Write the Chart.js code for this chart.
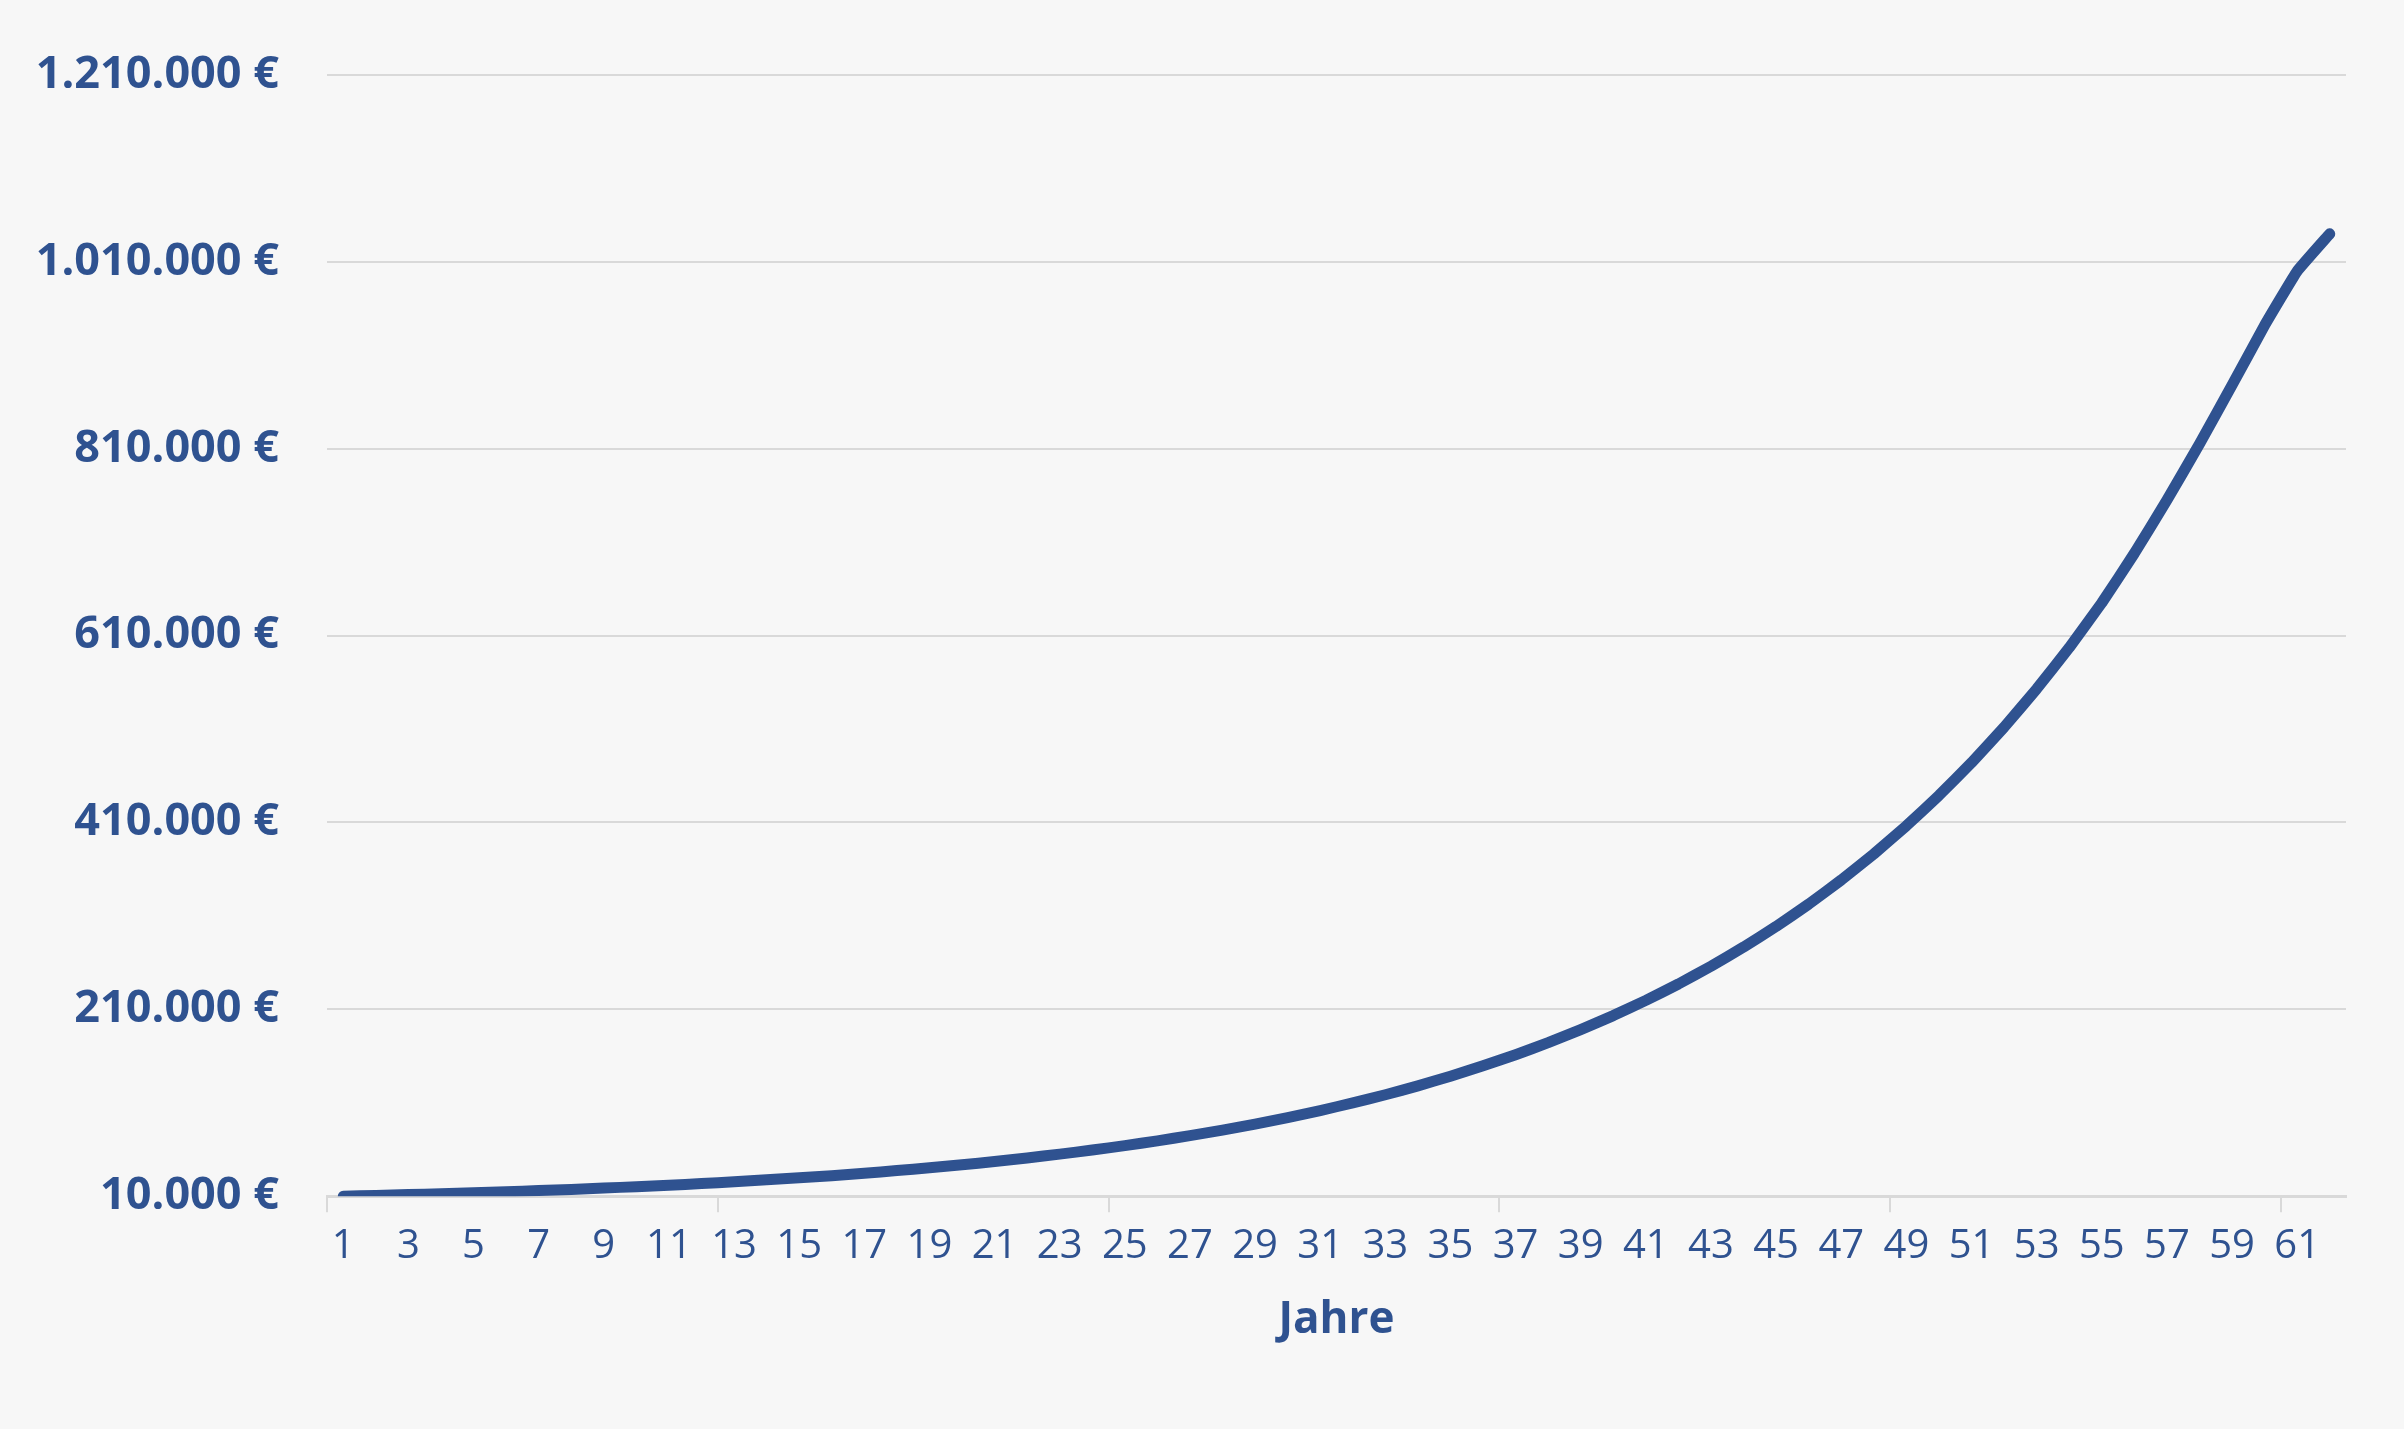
<!DOCTYPE html>
<html>
<head>
<meta charset="utf-8">
<script src="https://cdn.jsdelivr.net/npm/chart.js@4"></script>
<style>
    html, body { margin: 0; padding: 0; background: #f7f7f7; }
    #wrap { width: 2404px; height: 1429px; }
</style>
</head>
<body>
<div id="wrap"><canvas id="growthChart"></canvas></div>
<script>
// data
const years = Array.from({ length: 62 }, (_, i) => String(i + 1));
const capital = [
    10000, 10800, 11700, 12600, 13600, 14700, 16000, 17300, 18700, 20200,
    21800, 23500, 25400, 27500, 29700, 32000, 34600, 37400, 40400, 43600,
    47100, 50900, 55000, 59400, 64100, 69200, 74800, 80700, 87200, 94200,
    101700, 109800, 118600, 128100, 138400, 149500, 161400, 174300, 188300, 203300,
    219600, 237100, 256100, 276600, 298700, 322600, 348400, 376300, 406400, 438900,
    474000, 511900, 552900, 597100, 645000, 698000, 755000, 815000, 878000, 942000,
    1000000, 1040000
];
const yMin = 10000;
const yMax = 1210000;
const yStep = 200000;

const blue = '#2f5290';
const gridGrey = '#d9d9d9';

const config = {
    type: 'line',
    data: {
        labels: years,
        datasets: [{
            label: 'Kapital',
            data: capital,
            borderColor: blue,
            borderWidth: 11,
            borderCapStyle: 'round',
            borderJoinStyle: 'round',
            pointRadius: 0,
            tension: 0.1,
            fill: false
        }]
    },
    options: {
        responsive: true,
        maintainAspectRatio: false,
        animation: false,
        layout: { padding: { left: 20, right: 58, top: 38, bottom: 78 } },
        plugins: {
            legend: { display: false },
            tooltip: { enabled: false }
        },
        scales: {
            x: {
                offset: true,
                grid: {
                    offset: true,
                    drawOnChartArea: false,
                    tickLength: 16,
                    color: ctx => (ctx.index % 12 === 0 ? gridGrey : 'rgba(0,0,0,0)'),
                    lineWidth: 2
                },
                border: { color: gridGrey, width: 3 },
                ticks: {
                    autoSkip: false,
                    maxRotation: 0,
                    padding: 10,
                    color: blue,
                    font: { family: 'Open Sans', size: 40 },
                    callback: function (value, index) {
                        return index % 2 === 0 ? this.getLabelForValue(value) : '';
                    }
                },
                title: {
                    display: true,
                    text: 'Jahre',
                    color: blue,
                    padding: { top: 14 },
                    font: { family: 'Open Sans', size: 44, weight: 'bold' }
                }
            },
            y: {
                min: yMin,
                max: yMax,
                afterFit: s => { s.width = 307; },
                grid: { color: gridGrey, lineWidth: 2, drawTicks: false },
                border: { display: false },
                ticks: {
                    stepSize: yStep,
                    padding: 48,
                    color: blue,
                    font: { family: 'Open Sans', size: 45, weight: 'bold' },
                    callback: v => v.toLocaleString('de-DE') + ' €'
                }
            }
        }
    }
};

new Chart(document.getElementById('growthChart'), config);
</script>
</body>
</html>
